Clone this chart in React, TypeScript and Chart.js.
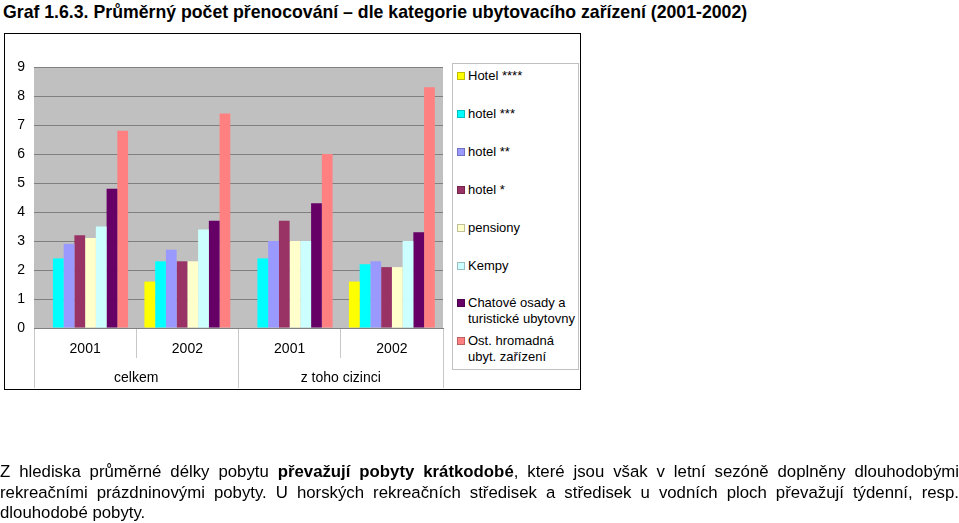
import React, { useEffect, useRef } from 'react';
import { Chart, registerables } from 'chart.js';

Chart.register(...registerables);

// ---- data ----
const years = ['2001', '2002', '2001', '2002'];
const groups = ['celkem', 'z toho cizinci'];
const seriesNames = [
  'Hotel ****',
  'hotel ***',
  'hotel **',
  'hotel *',
  'pensiony',
  'Kempy',
  'Chatové osady a turistické ubytovny',
  'Ost. hromadná ubyt. zařízení',
];
const legendLines = [
  ['Hotel ****'],
  ['hotel ***'],
  ['hotel **'],
  ['hotel *'],
  ['pensiony'],
  ['Kempy'],
  ['Chatové osady a', 'turistické ubytovny'],
  ['Ost. hromadná', 'ubyt. zařízení'],
];
const seriesColors = ['#FFFF00', '#00FFFF', '#9999FF', '#993366', '#FFFFCC', '#CCFFFF', '#660066', '#FF8080'];
const hotel4 = [null, 1.6, null, 1.6];
const hotel3 = [2.4, 2.3, 2.4, 2.2];
const hotel2 = [2.9, 2.7, 3.0, 2.3];
const hotel1 = [3.2, 2.3, 3.7, 2.1];
const pensiony = [3.1, 2.3, 3.0, 2.1];
const kempy = [3.5, 3.4, 3.0, 3.0];
const chatove = [4.8, 3.7, 4.3, 3.3];
const ost = [6.8, 7.4, 6.0, 8.3];
const seriesValues = [hotel4, hotel3, hotel2, hotel1, pensiony, kempy, chatove, ost];
const yMin = 0;
const yMax = 9;

const titleText = 'Graf 1.6.3. Průměrný počet přenocování – dle kategorie ubytovacího zařízení (2001-2002)';

const FONT = '"Liberation Sans", Arial, sans-serif';

const plotBg = {
  id: 'plotBg',
  beforeDraw(chart: any) {
    const { ctx, chartArea } = chart;
    ctx.save();
    ctx.fillStyle = '#C0C0C0';
    ctx.fillRect(chartArea.left, chartArea.top, chartArea.right - chartArea.left, chartArea.bottom - chartArea.top);
    ctx.restore();
  },
};

export default function App() {
  const ref = useRef<HTMLCanvasElement | null>(null);

  useEffect(() => {
    if (!ref.current) return;
    const chart = new Chart(ref.current, {
      type: 'bar',
      data: {
        labels: years,
        datasets: seriesNames.map((name, i) => ({
          label: name,
          data: seriesValues[i] as any,
          backgroundColor: seriesColors[i],
          borderWidth: 0,
          categoryPercentage: 0.84,
          barPercentage: 1.0,
        })),
      },
      options: {
        responsive: false,
        animation: false,
        layout: { padding: { left: 5, top: 67, right: 516, bottom: 135 } },
        plugins: {
          legend: { display: false },
          tooltip: { enabled: false },
        },
        scales: {
          x: {
            type: 'category',
            position: 'bottom',
            weight: 0,
            offset: true,
            grid: { offset: true, drawOnChartArea: false, drawTicks: true, tickLength: 30, color: '#c8c8c8' },
            border: { display: true, color: '#808080' },
            ticks: { color: '#000', font: { family: FONT, size: 14 }, padding: -17.4, maxRotation: 0, autoSkip: false },
            afterFit: (s: any) => { s.height = 30; },
          },
          x2: {
            type: 'category',
            labels: groups,
            position: 'bottom',
            weight: 1,
            offset: true,
            grid: { offset: true, drawOnChartArea: false, drawTicks: true, tickLength: 30, color: '#c8c8c8' },
            border: { display: false },
            ticks: { color: '#000', font: { family: FONT, size: 14 }, padding: -18.4, maxRotation: 0, autoSkip: false },
            afterFit: (s: any) => { s.height = 30; },
          },
          y: {
            min: yMin,
            max: yMax,
            ticks: { stepSize: 1, color: '#000', font: { family: FONT, size: 14 }, padding: 9 },
            grid: { color: '#808080', drawTicks: false },
            border: { display: false },
            afterFit: (s: any) => { s.width = 29; },
          },
        },
      },
      plugins: [plotBg],
    } as any);
    return () => chart.destroy();
  }, []);

  const legendTop = 63;
  const itemStep = 37.9;

  return (
    <div style={{ position: 'absolute', left: 0, top: 0, width: 959, height: 523, overflow: 'hidden', background: '#fff', fontFamily: FONT, color: '#000' }}>
      <div style={{ position: 'absolute', left: 3, top: 0, lineHeight: '24px', fontSize: 17.7, fontWeight: 'bold', whiteSpace: 'nowrap' }}>{titleText}</div>
      <div style={{ position: 'absolute', left: 4, top: 33, width: 575, height: 355, border: '1px solid #000' }} />
      <canvas ref={ref} width={959} height={523} style={{ position: 'absolute', left: 0, top: 0 }} />
      <div style={{ position: 'absolute', left: 452, top: legendTop, width: 125, height: 305, border: '1px solid #c0c0c0', background: '#fff' }}>
        {legendLines.map((lines, i) => (
          <div key={i} style={{ position: 'absolute', left: 0, top: 4 + i * itemStep, width: 125 }}>
            <div style={{ position: 'absolute', left: 4, top: 4, width: 8, height: 8, background: seriesColors[i], boxSizing: 'border-box', border: '1px solid rgba(0,0,0,0.25)' }} />
            {lines.map((ln, j) => (
              <div key={j} style={{ position: 'absolute', left: 15, top: j * 16, lineHeight: '16px', fontSize: 13, whiteSpace: 'nowrap' }}>{ln}</div>
            ))}
          </div>
        ))}
      </div>
      <div style={{ position: 'absolute', left: 0, top: 462, width: 959, fontSize: 16.8, lineHeight: '20.5px' }}>
        <div style={{ textAlign: 'justify', textAlignLast: 'justify' }}>
          Z hlediska průměrné délky pobytu <b>převažují pobyty krátkodobé</b>, které jsou však v letní sezóně doplněny dlouhodobými
        </div>
        <div style={{ textAlign: 'justify', textAlignLast: 'justify' }}>
          rekreačními prázdninovými pobyty. U horských rekreačních středisek a středisek u vodních ploch převažují týdenní, resp.
        </div>
        <div style={{ textAlign: 'left' }}>dlouhodobé pobyty.</div>
      </div>
    </div>
  );
}
